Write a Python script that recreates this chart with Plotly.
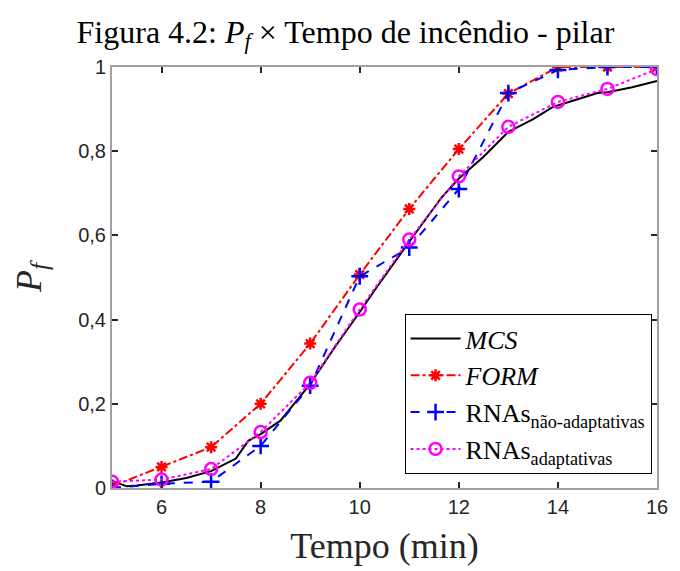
import plotly.graph_objects as go

# Data
t_pts = [5, 6, 7, 8, 9, 10, 11, 12, 13, 14, 15, 16]
form = [0.004, 0.05, 0.097, 0.2, 0.343, 0.507, 0.663, 0.805, 0.937, 1.0, 1.0, 1.0]
rna_nao = [0.0, 0.01, 0.015, 0.10, 0.243, 0.503, 0.571, 0.71, 0.938, 0.993, 1.0, 1.0]
rna_adapt = [0.015, 0.02, 0.045, 0.133, 0.25, 0.424, 0.59, 0.74, 0.858, 0.917, 0.948, 0.995]

t_mcs = [5, 5.3, 5.5, 6, 6.5, 7, 7.5, 7.75, 8, 8.4, 9, 9.5, 10, 10.35, 11, 11.65, 12,
         12.5, 13, 13.5, 13.9, 14.5, 14.8, 15, 15.5, 16]
mcs = [0.017, 0.004, 0.006, 0.013, 0.024, 0.04, 0.07, 0.112, 0.128, 0.16, 0.247, 0.335,
       0.418, 0.478, 0.585, 0.69, 0.735, 0.787, 0.846, 0.876, 0.905, 0.927, 0.938, 0.94,
       0.952, 0.967]

x_ticks = [6, 8, 10, 12, 14, 16]
y_ticks = [0, 0.2, 0.4, 0.6, 0.8, 1]

serif = "Liberation Serif, Times New Roman, serif"
sans = "Liberation Sans, Arial, sans-serif"

fig = go.Figure()
fig.add_trace(go.Scatter(x=t_mcs, y=mcs, mode="lines", name="<i>MCS</i>",
                         line=dict(color="black", width=2)))
fig.add_trace(go.Scatter(x=t_pts, y=form, mode="lines+markers", name="<i>FORM</i>",
                         line=dict(color="#ff0000", width=2, dash="dashdot"),
                         marker=dict(symbol="asterisk-open", size=10,
                                     line=dict(color="#ff0000", width=2.5))))
fig.add_trace(go.Scatter(x=t_pts, y=rna_nao, mode="lines+markers",
                         name="RNAs<sub>não-adaptativas</sub>",
                         line=dict(color="#0000ff", width=2, dash="dash"),
                         marker=dict(symbol="cross-thin-open", size=12,
                                     line=dict(color="#0000ff", width=2.5))))
fig.add_trace(go.Scatter(x=t_pts, y=rna_adapt, mode="lines+markers",
                         name="RNAs<sub>adaptativas</sub>",
                         line=dict(color="#ff00ff", width=2, dash="dot"),
                         marker=dict(symbol="circle-open", size=12,
                                     line=dict(color="#ff00ff", width=2.5))))

axis_common = dict(showgrid=False, zeroline=False, showline=True, linecolor="#a0a0a0",
                   linewidth=2, mirror="ticks", ticks="inside", ticklen=6,
                   tickcolor="#262626", tickwidth=1.5,
                   tickfont=dict(family=sans, size=20, color="#262626"))

fig.update_layout(
    width=680, height=571,
    margin=dict(l=112, r=15, t=67, b=82),
    paper_bgcolor="white", plot_bgcolor="white",
    separators=", ",
    title=dict(text="Figura 4.2: <i>P<sub>f</sub></i> × Tempo de incêndio - pilar",
               x=0.508, xanchor="center", y=0.945, yanchor="middle",
               font=dict(family=serif, size=32, color="black")),
    xaxis=dict(range=[5, 16], tickvals=x_ticks,
               title=dict(text="Tempo (min)", font=dict(family=serif, size=36, color="#262626"),
                          standoff=16),
               **axis_common),
    yaxis=dict(range=[0, 1], tickvals=y_ticks,
               title=dict(text="<i>P<sub>f</sub></i>", font=dict(family=serif, size=36, color="#262626"),
                          standoff=26),
               **axis_common),
    legend=dict(x=0.99, y=0.033, xanchor="right", yanchor="bottom",
                bgcolor="white", bordercolor="black", borderwidth=1,
                font=dict(family=serif, size=26, color="black"),
                tracegroupgap=0, itemwidth=50),
    showlegend=True,
)

fig.write_html("out.html")
